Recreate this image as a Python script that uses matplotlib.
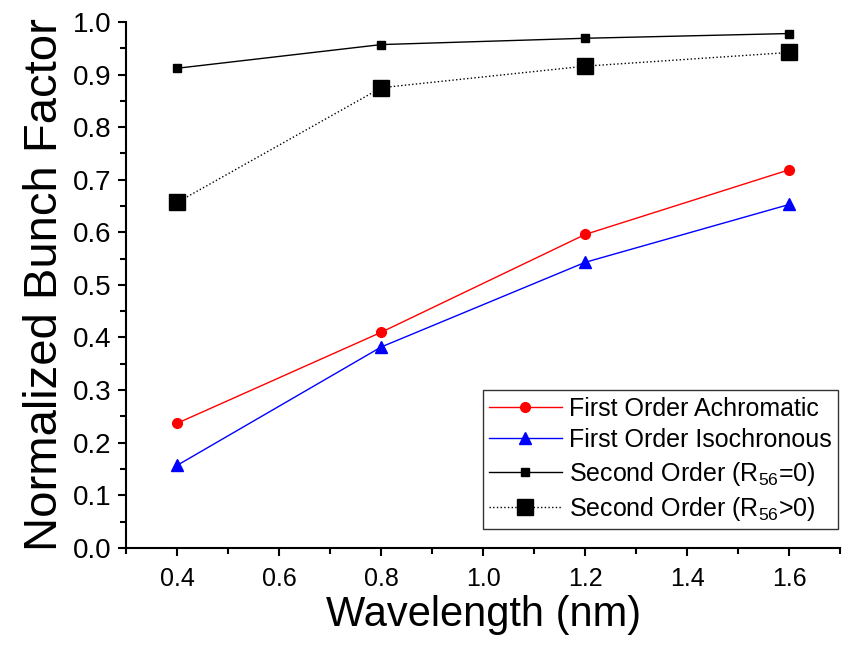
import matplotlib
matplotlib.use("Agg")
import matplotlib.pyplot as plt
from matplotlib.ticker import MultipleLocator

plt.rcParams['font.family'] = ['Liberation Sans', 'DejaVu Sans']
plt.rcParams['mathtext.fontset'] = 'custom'
plt.rcParams['mathtext.rm'] = 'Liberation Sans'

# Daten
wavelength = [0.4, 0.8, 1.2, 1.6]
achromatic = [0.237, 0.410, 0.596, 0.719]
isochronous = [0.157, 0.382, 0.543, 0.653]
second_r56_0 = [0.912, 0.957, 0.969, 0.978]
second_r56_pos = [0.657, 0.875, 0.916, 0.942]

fig = plt.figure(figsize=(8.42, 6.46), dpi=100)
ax = fig.add_axes([0.150, 0.152, 0.848, 0.814])

ax.plot(wavelength, achromatic, '-o', color='red', lw=1, ms=7,
        label='First Order Achromatic')
ax.plot(wavelength, isochronous, '-^', color='blue', lw=1, ms=8,
        label='First Order Isochronous')
ax.plot(wavelength, second_r56_0, '-s', color='black', lw=1, ms=6,
        label=r'Second Order (R$_{56}$=0)')
ax.plot(wavelength, second_r56_pos, ':s', color='black', lw=1, ms=12,
        label=r'Second Order (R$_{56}$>0)')

ax.set_xlim(0.3, 1.7)
ax.set_ylim(0.0, 1.0)
ax.xaxis.set_major_locator(MultipleLocator(0.2))
ax.xaxis.set_minor_locator(MultipleLocator(0.1))
ax.yaxis.set_major_locator(MultipleLocator(0.1))
ax.yaxis.set_minor_locator(MultipleLocator(0.05))
ax.xaxis.set_major_formatter(plt.FormatStrFormatter('%.1f'))
ax.yaxis.set_major_formatter(plt.FormatStrFormatter('%.1f'))

for side in ('top', 'right'):
    ax.spines[side].set_visible(False)
for side in ('left', 'bottom'):
    ax.spines[side].set_linewidth(1.5)

ax.tick_params(which='major', direction='out', length=6, width=1.5)
ax.tick_params(which='minor', direction='out', length=4, width=1.5)
ax.tick_params(axis='x', which='major', labelsize=18, pad=8)
ax.tick_params(axis='y', which='major', labelsize=20, pad=5)

ax.set_xlabel('Wavelength (nm)', fontsize=30, labelpad=3)
ax.set_ylabel('Normalized Bunch Factor', fontsize=34, labelpad=4)

leg = ax.legend(loc='lower right', bbox_to_anchor=(0.997, 0.035), fontsize=18,
                frameon=True, fancybox=False, edgecolor='black',
                handlelength=2.9, handletextpad=0.3, borderpad=0.25,
                borderaxespad=0, labelspacing=0.3)
leg.get_frame().set_linewidth(1)

fig.savefig('out.png', dpi=100)
